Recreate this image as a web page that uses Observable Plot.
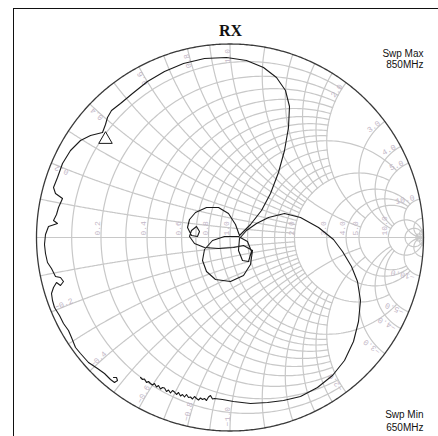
<!DOCTYPE html>
<html><head><meta charset="utf-8">
<script src="https://cdn.jsdelivr.net/npm/d3@7"></script>
<script src="https://cdn.jsdelivr.net/npm/@observablehq/plot@0.6"></script>
<style>
html,body{margin:0;padding:0;background:#fff;}
#wrap{position:relative;width:438px;height:436px;overflow:hidden;}
#wrap svg{position:absolute;left:0;top:0;}
#border{position:absolute;left:13px;top:8px;width:600px;height:600px;border-left:1px solid #111;border-top:1px solid #111;pointer-events:none;}
</style></head><body>
<div id="wrap"></div>
<script>
// ---- Chart text ----
const title = "RX";
const sweepMax = "Swp Max\n850MHz";
const sweepMin = "Swp Min\n650MHz";

// ---- Smith grid values (normalized resistance / reactance) ----
const gridFine = [0.1,0.2,0.3,0.4,0.5,0.6,0.7,0.8,0.9];
const gridMid = [1.2,1.4,1.6,1.8];
const gridMajor = [1,2];
const gridCoarse = [3,4,5];
const gridHigh = [10,20,50];
const labelValues = [0.2,0.4,0.6,0.8,1,2,3,4,5,10];

const traceRe = [-0.4625,-0.4522,-0.4419,-0.4315,-0.4212,-0.4109,-0.4005,-0.3902,-0.3798,-0.3695,
 -0.3592,-0.3488,-0.3385,-0.3282,-0.3178,-0.3075,-0.2972,-0.2868,-0.2765,-0.2661,
 -0.2558,-0.2455,-0.2351,-0.2248,-0.2145,-0.2041,-0.1938,-0.1835,-0.1731,-0.1628,
 -0.1525,-0.1421,-0.1318,-0.1214,-0.1111,-0.1008,-0.0904,-0.0801,-0.0388,
 0.0181,0.1059,0.1938,0.2765,0.3643,0.4522,0.5297,0.5917,0.6382,0.6641,
 0.6744,0.6589,0.6279,0.5814,0.5349,0.4574,0.3643,0.2817,0.1990,0.1370,
 0.0853,0.0491,0.0439,0.0646,0.0956,0.1111,0.0904,0.0439,-0.0284,-0.0904,
 -0.1318,-0.1421,-0.1214,-0.0749,0.0026,0.0698,0.1059,0.1163,0.0698,0.0181,
 -0.0594,-0.1318,-0.1835,-0.2093,-0.1990,-0.1731,-0.1576,-0.1680,-0.1990,-0.2196,
 -0.2093,-0.1783,-0.1214,-0.0594,-0.0078,0.0284,0.0491,0.1059,0.1628,0.2093,
 0.2506,0.2817,0.3023,0.3075,0.2868,0.2403,0.1731,0.0853,-0.0181,-0.1318,
 -0.2403,-0.3385,-0.4264,-0.5039,-0.5659,-0.6124,-0.6331,-0.6434,-0.6589,-0.7209,
 -0.7726,-0.8243,-0.8656,-0.8915,-0.9121,-0.9018,-0.8656,-0.8863,-0.8966,-0.9121,
 -0.8915,-0.9380,-0.9535,-0.9587,-0.9535,-0.9432,-0.9225,-0.9018,-0.8760,-0.8605,
 -0.8760,-0.8966,-0.9121,-0.9225,-0.9173,-0.9070,-0.8811,-0.8605,-0.8346,-0.8191,
 -0.7984,-0.7726,-0.7313,-0.6848,-0.6486,-0.6176,-0.5969,-0.5814,-0.5866,-0.6021];
const traceIm = [-0.7235,-0.7339,-0.7313,-0.7494,-0.7442,-0.7545,-0.7623,-0.7545,-0.7726,-0.7649,
 -0.7829,-0.7752,-0.7778,-0.7959,-0.7881,-0.8036,-0.7907,-0.7984,-0.8114,-0.8010,
 -0.8191,-0.8114,-0.8243,-0.8114,-0.8269,-0.8243,-0.8346,-0.8217,-0.8320,-0.8398,
 -0.8295,-0.8372,-0.8320,-0.8424,-0.8243,-0.8165,-0.8346,-0.8320,-0.8372,
 -0.8475,-0.8579,-0.8527,-0.8424,-0.8217,-0.7752,-0.7132,-0.6357,-0.5375,-0.4341,
 -0.3256,-0.2274,-0.1499,-0.0724,-0.0103,0.0517,0.1034,0.1240,0.1034,0.0724,
 0.0362,-0.0052,-0.0672,-0.1189,-0.1240,-0.0724,-0.0207,0.0052,0.0052,-0.0155,
 -0.0620,-0.1189,-0.1757,-0.2171,-0.2274,-0.1964,-0.1395,-0.0672,-0.0413,-0.0517,
 -0.0568,-0.0517,-0.0310,0.0052,0.0362,0.0568,0.0310,0.0052,0.0103,0.0517,
 0.0930,0.1292,0.1550,0.1550,0.1240,0.0672,0.0103,0.0672,0.1395,0.2274,
 0.3359,0.4496,0.5685,0.6770,0.7597,0.8269,0.8786,0.9147,0.9302,0.9251,
 0.8992,0.8579,0.8062,0.7442,0.6925,0.6563,0.6202,0.5840,0.5426,0.5271,
 0.5013,0.4496,0.3824,0.3101,0.2584,0.2274,0.2016,0.1550,0.1189,0.0879,
 0.0724,0.0568,0.0155,-0.0362,-0.0827,-0.1292,-0.1602,-0.2016,-0.2067,-0.2274,
 -0.2481,-0.2326,-0.2584,-0.2894,-0.3256,-0.3618,-0.4031,-0.4444,-0.4806,-0.5168,
 -0.5685,-0.5995,-0.6460,-0.6770,-0.7028,-0.7339,-0.7494,-0.7390,-0.7235,-0.7235];
// open triangle marker on the trace
const markerRe = [-0.6434];
const markerIm = [0.5065];

// ---- Build grid geometry from the grid values ----
function gamma(r, x) {
  const d = (r + 1) * (r + 1) + x * x;
  return [(r * r - 1 + x * x) / d, (2 * x) / d];
}
const N = 300;
const grid = [];
let gid = 0;
function rCircle(r, lim) {
  const t0 = Math.atan(lim);
  gid++;
  for (let i = 0; i <= N; i++) {
    const t = -t0 + (2 * t0 * i) / N;
    const [gr, gi] = gamma(r, Math.tan(t));
    grid.push({gr, gi, id: gid});
  }
}
function xArc(x, lim) {
  const t1 = Math.atan(lim);
  gid++;
  for (let i = 0; i <= N; i++) {
    const t = (t1 * i) / N;
    const [gr, gi] = gamma(Math.tan(t), x);
    grid.push({gr, gi, id: gid});
  }
}
const groups = [[gridFine, 2], [gridMid, 2], [gridMajor, 5], [gridCoarse, 10], [gridHigh, Infinity]];
for (const [vals, lim] of groups) {
  for (const v of vals) {
    rCircle(v, lim);
    xArc(v, lim);
    xArc(-v, lim);
  }
}
xArc(0, Infinity); // real axis
const outer = [];
for (let i = 0; i <= 720; i++) {
  const t = -Math.PI / 2 + (Math.PI * i) / 720;
  const [gr, gi] = gamma(0, Math.tan(t));
  outer.push({gr, gi});
}

// labels
const fmt = d3.format(".1f");
const rLabels = labelValues.map(v => ({gr: (v - 1) / (v + 1), gi: 0, t: fmt(v)}));
const xLabels = [];
for (const v of labelValues) for (const s of [1, -1]) {
  const [gr, gi] = gamma(0, s * v);
  const a = Math.atan2(gi, gr) * 180 / Math.PI;
  xLabels.push({gr: gr * 0.975, gi: gi * 0.975, t: fmt(s * v), s, rot: s > 0 ? -a : 180 - a});
}

const trace = traceRe.map((v, i) => ({gr: v, gi: traceIm[i]}));
const markers = markerRe.map((v, i) => ({gr: v, gi: markerIm[i]}));

const labelStyle = {fontFamily: "Liberation Mono", fontSize: 8, fill: "#c2b6c6"};

const chart = Plot.plot({
  width: 438, height: 436,
  marginLeft: 0, marginRight: 0, marginTop: 0, marginBottom: 0,
  style: {background: "transparent"},
  x: {domain: [-1.18605, 1.07752], axis: null},
  y: {domain: [-1.02842, 1.22481], axis: null},
  marks: [
    Plot.line(grid, {x: "gr", y: "gi", z: "id", stroke: "#c8c8c8", strokeWidth: 1.2}),
    Plot.line(outer, {x: "gr", y: "gi", stroke: "#3a3a3a", strokeWidth: 1.3}),
    Plot.text(rLabels, {x: "gr", y: "gi", text: "t", rotate: -90, textAnchor: "start", lineAnchor: "bottom", dx: -1, dy: -2, ...labelStyle}),
    Plot.text(xLabels.filter(d => d.s > 0), {x: "gr", y: "gi", text: "t", rotate: "rot", textAnchor: "end", lineAnchor: "bottom", ...labelStyle}),
    Plot.text(xLabels.filter(d => d.s < 0), {x: "gr", y: "gi", text: "t", rotate: "rot", textAnchor: "start", lineAnchor: "bottom", ...labelStyle}),
    Plot.line(trace, {x: "gr", y: "gi", stroke: "#1a1a1a", strokeWidth: 1.1}),
    Plot.dot(markers, {x: "gr", y: "gi", symbol: "triangle", r: 5, stroke: "#1a1a1a", fill: "white", strokeWidth: 1}),
    Plot.text([title], {frameAnchor: "top", dx: 11, dy: 35, lineAnchor: "bottom", fontFamily: "Liberation Serif", fontWeight: "bold", fontSize: 16, fill: "#111"}),
    Plot.text([sweepMax], {frameAnchor: "top-right", dx: -15, dy: 67, textAnchor: "end", lineAnchor: "bottom", lineHeight: 1.1, fontFamily: "Liberation Sans", fontSize: 10, fill: "#111"}),
    Plot.text([sweepMin], {frameAnchor: "top-right", dx: -15, dy: 430, textAnchor: "end", lineAnchor: "bottom", lineHeight: 1.3, fontFamily: "Liberation Sans", fontSize: 10, fill: "#111"})
  ]
});
const wrap = document.getElementById("wrap");
wrap.appendChild(chart);
const b = document.createElement("div");
b.id = "border";
wrap.appendChild(b);
</script></body></html>
